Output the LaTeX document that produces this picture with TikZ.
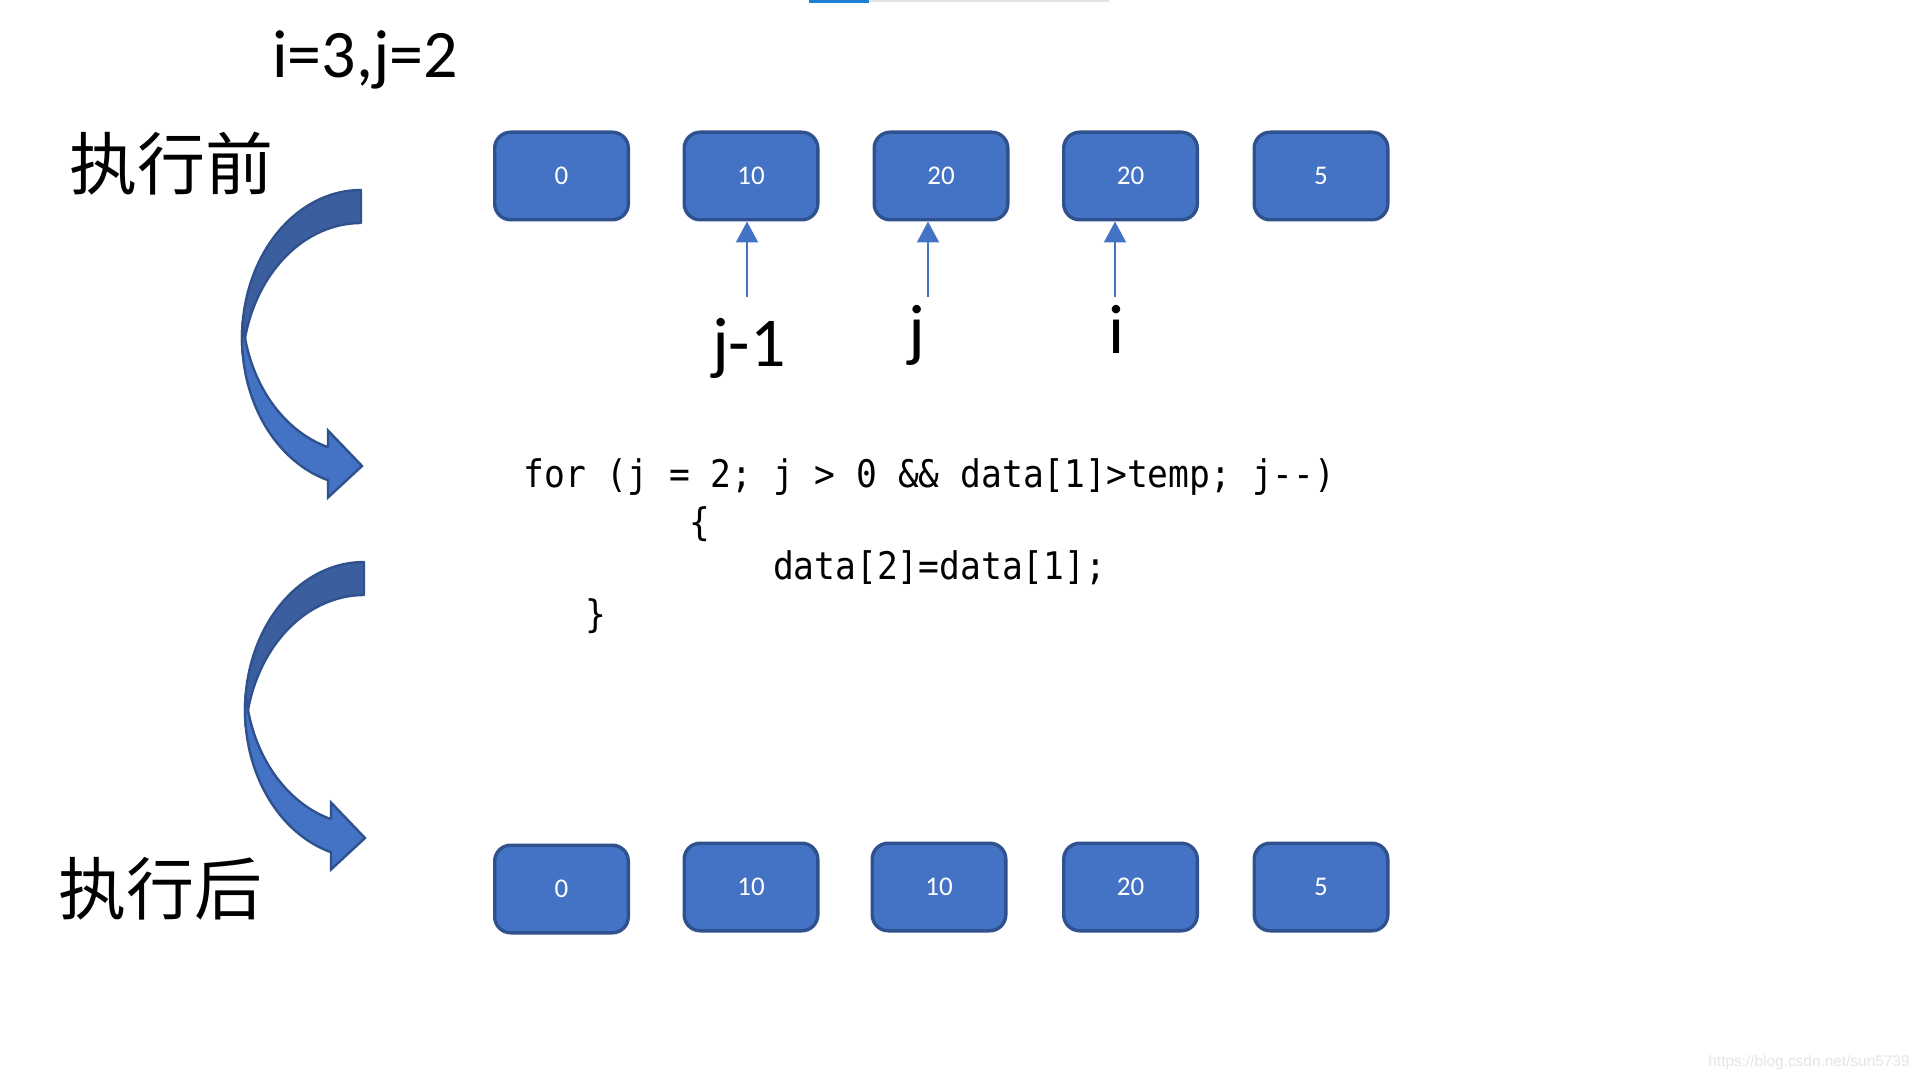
\documentclass[tikz,border=0pt]{standalone}
\usepackage{fontspec}
\setmainfont{Carlito}
\newfontfamily\cjkfont{Noto Sans CJK SC}
\newfontfamily\codefont[FakeStretch=0.91]{DejaVu Sans Mono}
\newfontfamily\wmfont{Liberation Sans}
\usetikzlibrary{arrows.meta}
\definecolor{boxfill}{HTML}{4472C4}
\definecolor{boxedge}{HTML}{2F528F}
\definecolor{darkband}{HTML}{3A5E9E}
\definecolor{barblue}{HTML}{1E7FD8}
\definecolor{bargray}{HTML}{E4E4E4}
\newcommand\mybendarrow[1]{%
\begin{scope}[shift={#1}]
  \path[fill=darkband, draw=boxedge, line width=1.2pt, line join=round]
    plot[domain=90:186.4, samples=40, variable=\t] ({361+119*cos(\t)},{338-148*sin(\t)})
    -- plot[domain=173.6:90, samples=40, variable=\t] ({361+119*cos(\t)},{371-148*sin(\t)})
    -- cycle;
  \path[fill=boxfill, draw=boxedge, line width=1.2pt, line join=miter]
    plot[domain=173.6:253.9, samples=40, variable=\t] ({361+119*cos(\t)},{338-148*sin(\t)})
    -- (328,497.5) -- (362,466) -- (328,430.5) -- (328,447.2)
    -- plot[domain=253.9:186.4, samples=40, variable=\t] ({361+119*cos(\t)},{305-148*sin(\t)})
    -- cycle;
\end{scope}}
\begin{document}
\begin{tikzpicture}[x=0.5pt, y=-0.5pt,
  cell/.style={draw=boxedge, fill=boxfill, line width=1.7pt, rounded corners=8pt,
    minimum width=66.8pt, minimum height=43.8pt, inner sep=0pt, text=white,
    font=\fontsize{13.5}{16}\selectfont},
  ptr/.style={draw=boxfill, line width=1pt, -{Triangle[width=11pt,length=10.5pt]}},
  bigtxt/.style={font=\fontsize{35}{40}\selectfont, inner sep=0pt},
  cjktxt/.style={font=\cjkfont\fontsize{34}{40}\selectfont, inner sep=0pt},
  code/.style={font=\codefont\fontsize{19}{22}\selectfont, inner sep=0pt, anchor=base west}]
\fill[white] (0,0) rectangle (1920,1080);
\useasboundingbox (0,0) rectangle (1920,1080);
\fill[barblue] (809,0) rectangle (869,3);
\fill[bargray] (869,0) rectangle (1109,2);

% title
\node[bigtxt, font=\fontsize{34}{40}\selectfont, anchor=base west] (title) at (272,78) {i=3,j=2};

% labels
\node[cjktxt] (before) at (171,164) {执行前};
\node[cjktxt] (after) at (160,889) {执行后};

% curved arrows
\mybendarrow{(0,0)}
\mybendarrow{(3,372)}

% top row
\node[cell] (t1) at (561.5,176) {0};
\node[cell] (t2) at (751,176) {10};
\node[cell] (t3) at (941,176) {20};
\node[cell] (t4) at (1130.5,176) {20};
\node[cell] (t5) at (1321,176) {5};

% bottom row
\node[cell] (b1) at (561.5,889) {0};
\node[cell] (b2) at (751,887) {10};
\node[cell] (b3) at (939,887) {10};
\node[cell] (b4) at (1130.5,887) {20};
\node[cell] (b5) at (1321,887) {5};

% pointers
\coordinate (p1) at (747,297);
\coordinate (p2) at (928,297);
\coordinate (p3) at (1115,297);
\draw[ptr] (p1) -- (p1 |- t2.south);
\draw[ptr] (p2) -- (p2 |- t3.south);
\draw[ptr] (p3) -- (p3 |- t4.south);
\node[bigtxt, anchor=base] (lj1) at (749,366) {j-1};
\node[bigtxt, anchor=base] (lj) at (917,353) {j};
\node[bigtxt, anchor=base] (li) at (1117,353) {i};

% code
\node[code] (c1) at (523,487) {for (j = 2; j > 0 \&\& data[1]>temp; j\hbox{-}\hbox{-})};
\node[code] (c2) at (689.4,535) {\{};
\node[code] (c3) at (772.6,579) {data[2]=data[1];};
\node[code] (c4) at (585.4,627) {\}};

% watermark
\node[font=\wmfont\fontsize{7.7}{9}\selectfont, text=black!10, anchor=base east, inner sep=0pt] (wm) at (1910,1066) {https://blog.csdn.net/sun5739};
\end{tikzpicture}
\end{document}
